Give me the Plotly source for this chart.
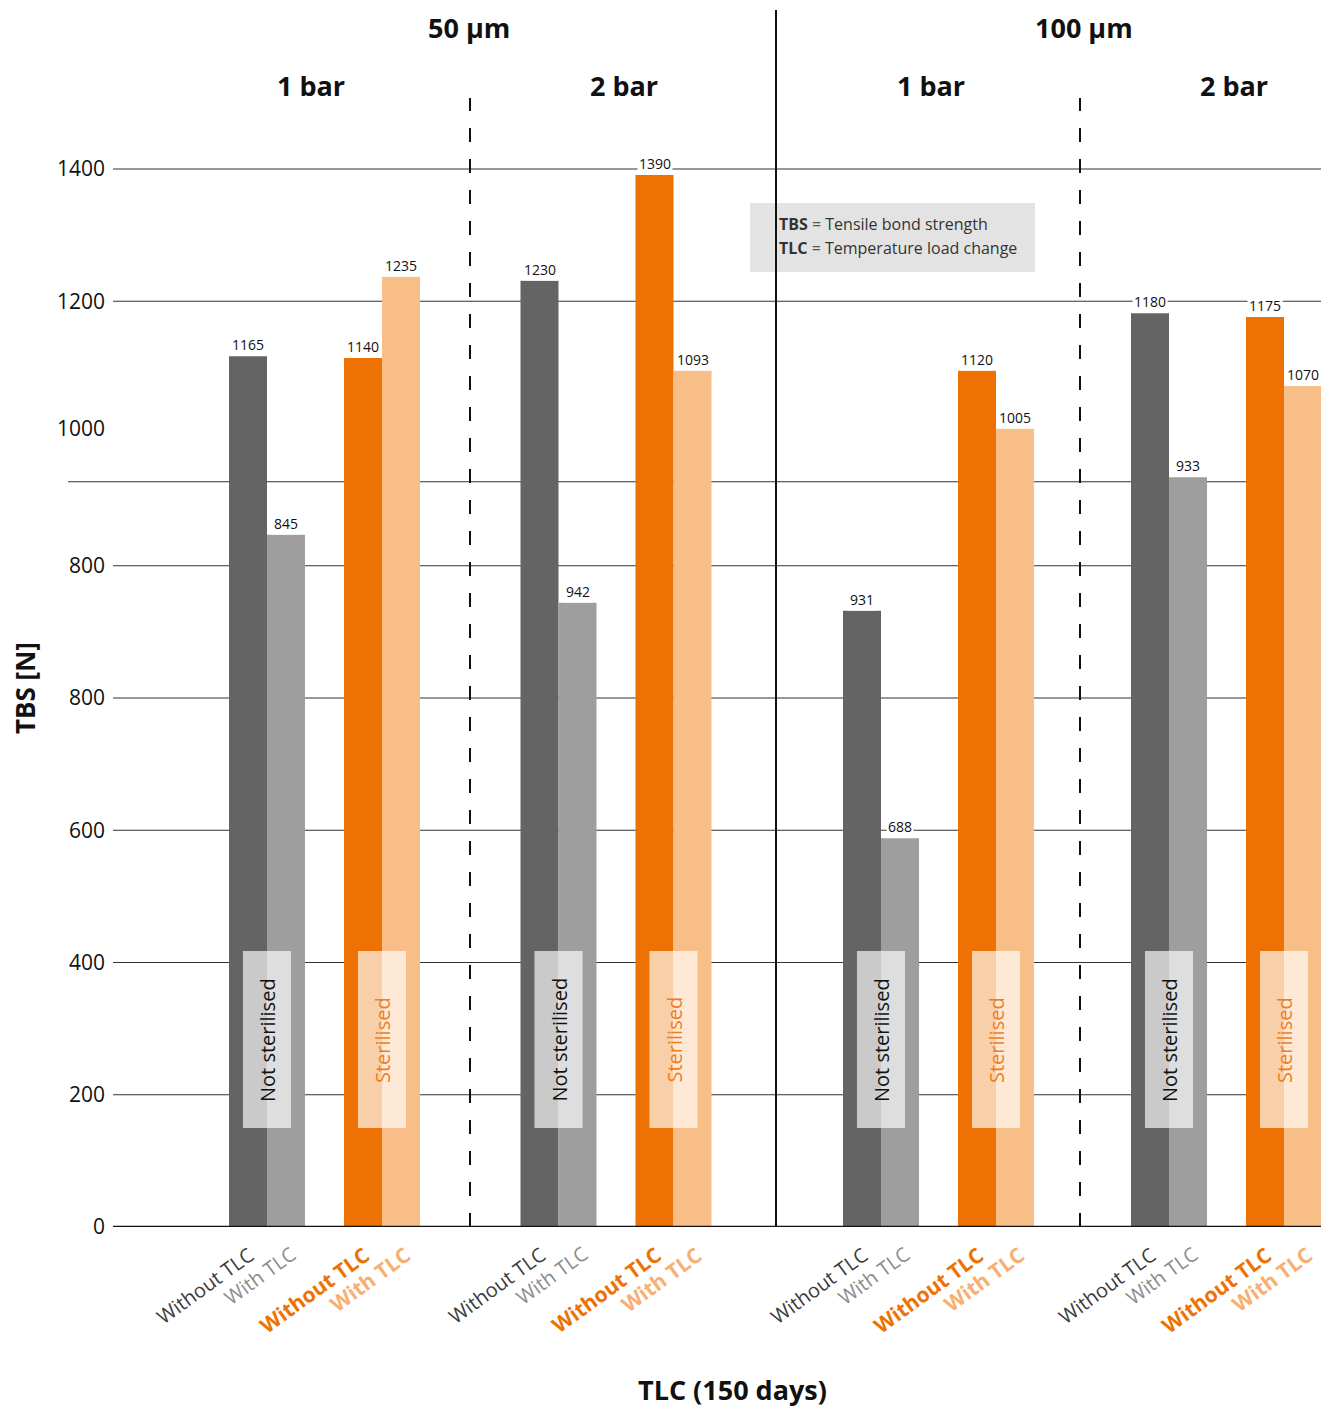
import plotly.graph_objects as go

# ---------------- data ----------------
thickness_titles = ["50 µm", "100 µm"]
pressure_titles = ["1 bar", "2 bar", "1 bar", "2 bar"]
sterilisation = ["Not sterilised", "Sterilised"]
tlc_labels = ["Without TLC", "With TLC"]

# printed TBS values [N]; per group: [not sterilised, sterilised]
tbs_without_tlc = [[1165, 1140], [1230, 1390], [931, 1120], [1180, 1175]]
tbs_with_tlc = [[845, 1235], [942, 1093], [688, 1005], [933, 1070]]
# bar heights as drawn on the chart's (irregular) axis
height_without_tlc = [[1317, 1314], [1431, 1591], [932, 1295], [1382, 1376]]
height_with_tlc = [[1047, 1437], [944, 1295], [588, 1207], [1134, 1272]]

y_tick_vals = [0, 200, 400, 600, 800, 1000, 1208, 1400, 1600]
y_tick_text = ["0", "200", "400", "600", "800", "800", "1000", "1200", "1400"]
grid_vals = [200, 400, 600, 800, 1000, 1127, 1400, 1600]

# ---------------- styles ----------------
W, H = 1331, 1409
PLOT_BOTTOM = 1227  # px
Y_MAX = PLOT_BOTTOM * 200 / 132.25
FONT = "Open Sans"
DARK, GRAY, ORANGE, PEACH = "#646464", "#9e9e9e", "#ee7203", "#f8be88"
col_without = [DARK, ORANGE]
col_with = [GRAY, PEACH]
lab_col_without = ["#3c3c3c", "#ee7203"]
lab_col_with = ["#8c8c8c", "#f9ae73"]

def px(x):
    return x / W

def py(y):
    return (PLOT_BOTTOM - y) / PLOT_BOTTOM

def ypx(y):
    return (PLOT_BOTTOM - y) * 200 / 132.25

domains = [(209.5, 439.5), (501, 731), (823.5, 1053.5), (1111.5, 1321)]
ranges = [[-0.5, 1.5], [-0.5, 1.5], [-0.5, 1.5], [-0.5, 1.5 - 20.5 / 115]]
axis_ids = ["x", "x2", "x3", "x4"]
half = 38 / 115 / 2

fig = go.Figure()
annotations = []
shapes = []

def note(**kw):
    kw.setdefault("showarrow", False)
    kw.setdefault("xanchor", "center")
    kw.setdefault("yanchor", "middle")
    annotations.append(kw)

for g in range(4):
    xa = axis_ids[g]
    fig.add_trace(go.Bar(x=sterilisation, y=height_without_tlc[g], name=tlc_labels[0],
                         marker=dict(color=col_without, line=dict(width=0)),
                         xaxis=xa, yaxis="y", showlegend=False, hoverinfo="skip"))
    fig.add_trace(go.Bar(x=sterilisation, y=height_with_tlc[g], name=tlc_labels[1],
                         marker=dict(color=col_with, line=dict(width=0)),
                         xaxis=xa, yaxis="y", showlegend=False, hoverinfo="skip"))
    for k in range(2):
        # value labels
        for sgn, vals, hts in ((-1, tbs_without_tlc, height_without_tlc), (1, tbs_with_tlc, height_with_tlc)):
            note(x=k + sgn * half, y=hts[g][k], xref=xa, yref="y",
                 text=str(vals[g][k]), yanchor="bottom", bgcolor="white", borderpad=1,
                 font=dict(family=FONT, size=14, color="#111"))
        # sterilisation box
        shapes.append(dict(type="rect", xref=xa, yref="y", x0=k - 0.209, x1=k + 0.209,
                           y0=ypx(1128), y1=ypx(951),
                           fillcolor="rgba(255,255,255,0.66)", line=dict(width=0), layer="above"))
        note(x=k, y=ypx(1040), xref=xa, yref="y", text=sterilisation[k], textangle=-90,
             font=dict(family=FONT, size=20, color="#111" if k == 0 else "#f07d1e"))
        # rotated category labels
        for sgn, lab, cols, shift in ((-1, tlc_labels[0], lab_col_without, 14), (1, tlc_labels[1], lab_col_with, 18)):
            txt = f"<b>{lab}</b>" if k == 1 else lab
            note(x=k + sgn * half, y=py(1238), xref=xa, yref="paper",
                 text=txt, textangle=-36, xanchor="right", yanchor="top", xshift=shift,
                 font=dict(family=FONT, size=20 if k == 0 else 21, color=cols[k]))

# gridlines
for v in grid_vals:
    x0 = 68 if v == 1127 else 113
    shapes.append(dict(type="line", xref="paper", yref="y", x0=px(x0), x1=px(1321), y0=v, y1=v,
                       line=dict(color="#333", width=1.2), layer="below"))
shapes.append(dict(type="line", xref="paper", yref="y", x0=px(113), x1=px(1321), y0=0, y1=0,
                   line=dict(color="#111", width=2.5), layer="above"))

# legend box
shapes.append(dict(type="rect", xref="paper", yref="paper", x0=px(750), x1=px(1035),
                   y0=py(272), y1=py(203), fillcolor="#e3e3e3", line=dict(width=0), layer="below"))
# separators
shapes.append(dict(type="line", xref="paper", yref="paper", x0=px(776), x1=px(776), y0=0, y1=py(10),
                   line=dict(color="#111", width=2)))
for xx in (470, 1080):
    shapes.append(dict(type="line", xref="paper", yref="paper", x0=px(xx), x1=px(xx), y0=0, y1=py(98),
                       line=dict(color="#111", width=2, dash="14px,17px")))

note(x=px(777), y=py(224), xref="paper", yref="paper", xanchor="left",
     text="<b>TBS</b> <span style='color:#555'>=</span> Tensile bond strength",
     font=dict(family=FONT, size=16, color="#333"))
note(x=px(777), y=py(248), xref="paper", yref="paper", xanchor="left",
     text="<b>TLC</b> <span style='color:#555'>=</span> Temperature load change",
     font=dict(family=FONT, size=16, color="#333"))

# headings
for t, xx in zip(thickness_titles, (469, 1084)):
    note(x=px(xx), y=py(27), xref="paper", yref="paper", text=f"<b>{t}</b>",
         font=dict(family=FONT, size=27, color="#111"))
for t, xx in zip(pressure_titles, (311, 624, 931, 1234)):
    note(x=px(xx), y=py(85), xref="paper", yref="paper", text=f"<b>{t}</b>",
         font=dict(family=FONT, size=27, color="#111"))

note(x=px(25), y=py(688), xref="paper", yref="paper", text="<b>TBS [N]</b>",
     textangle=-90, font=dict(family=FONT, size=26, color="#111"))
note(x=px(732), y=py(1389), xref="paper", yref="paper", text="<b>TLC (150 days)</b>",
     font=dict(family=FONT, size=27, color="#111"))

layout = dict(
    width=W, height=H, margin=dict(l=0, r=0, t=0, b=H - PLOT_BOTTOM),
    plot_bgcolor="white", paper_bgcolor="white",
    barmode="group", bargap=1 - 76 / 115, bargroupgap=0,
    yaxis=dict(range=[0, Y_MAX], anchor="free", position=px(113), tickvals=y_tick_vals,
               ticktext=y_tick_text, showgrid=False, zeroline=False, showline=False,
               ticks="", ticklabelstandoff=8,
               tickfont=dict(family=FONT, size=21, color="#111")),
    shapes=shapes, annotations=annotations,
)
for g, xa in enumerate(axis_ids):
    key = "xaxis" if g == 0 else f"xaxis{g + 1}"
    layout[key] = dict(domain=[px(domains[g][0]), px(domains[g][1])], range=ranges[g],
                       type="category", categoryorder="array", categoryarray=sterilisation,
                       showticklabels=False, showgrid=False, zeroline=False, showline=False,
                       anchor="y", fixedrange=True)
fig.update_layout(**layout)
fig.write_html("out.html", config={"displayModeBar": False},
               post_script="document.body.style.margin='0';")
